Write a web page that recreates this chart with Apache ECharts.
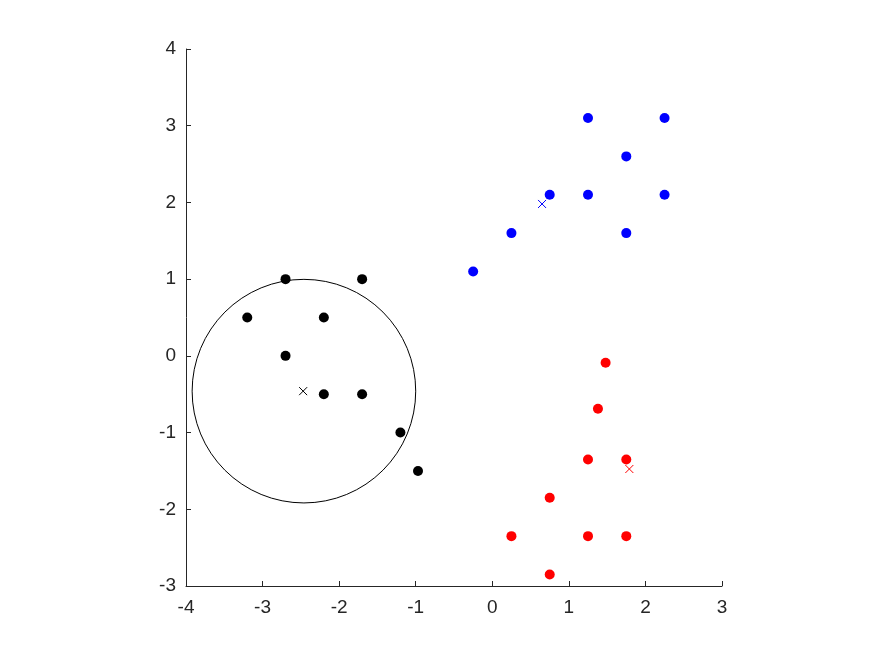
<!DOCTYPE html>
<html>
<head>
<meta charset="utf-8">
<script src="https://cdn.jsdelivr.net/npm/echarts@6/dist/echarts.min.js"></script>
<style>
html, body { margin: 0; padding: 0; background: #fff; }
#chart { width: 875px; height: 656px; }
</style>
</head>
<body>
<div id="chart"></div>
<script>
// cluster points
let bluePts = [[1.25, 3.1], [2.25, 3.1], [1.75, 2.6], [0.75, 2.1], [1.25, 2.1], [2.25, 2.1], [0.25, 1.6], [1.75, 1.6], [-0.25, 1.1]];
let blackPts = [[-2.7, 1.0], [-1.7, 1.0], [-3.2, 0.5], [-2.2, 0.5], [-2.7, 0], [-2.2, -0.5], [-1.7, -0.5], [-1.2, -1.0], [-0.97, -1.5]];
let redPts = [[1.48, -0.09], [1.38, -0.69], [1.25, -1.35], [1.75, -1.35], [0.75, -1.85], [0.25, -2.35], [1.25, -2.35], [1.75, -2.35], [0.75, -2.85]];
// centroids
let blueCenter = [[0.65, 1.98]];
let blackCenter = [[-2.47, -0.46]];
let redCenter = [[1.79, -1.475]];
// circle around black centroid: [cx, cy, r]
let circleData = [[-2.46, -0.46, 1.46]];

let xTicks = [-4, -3, -2, -1, 0, 1, 2, 3];
let yTicks = [-3, -2, -1, 0, 1, 2, 3, 4];

let crossPath = 'path://M0,0L10,10M10,0L0,10';

function dots(name, data, color) {
    return {
        name: name,
        type: 'scatter',
        data: data,
        symbol: 'circle',
        symbolSize: 10,
        itemStyle: { color: color, opacity: 1 },
        z: 3
    };
}
function cross(name, data, color) {
    return {
        name: name,
        type: 'scatter',
        data: data,
        symbol: crossPath,
        symbolSize: 8,
        itemStyle: { color: 'transparent', borderColor: color, borderWidth: 1, opacity: 1 },
        z: 4
    };
}

let axisCol = '#262626';
let chart = echarts.init(document.getElementById('chart'));
let option = {
    animation: false,
    backgroundColor: '#fff',
    grid: { left: 186, right: 153, top: 49, bottom: 70 },
    xAxis: {
        type: 'value',
        min: xTicks[0],
        max: xTicks[xTicks.length - 1],
        interval: 1,
        splitLine: { show: false },
        axisLine: { show: true, onZero: false, lineStyle: { color: axisCol, width: 1 } },
        axisTick: { show: true, inside: true, length: 5, lineStyle: { color: axisCol } },
        axisLabel: { color: axisCol, fontSize: 19, fontFamily: 'Liberation Sans', margin: 12 }
    },
    yAxis: {
        type: 'value',
        min: yTicks[0],
        max: yTicks[yTicks.length - 1],
        interval: 1,
        splitLine: { show: false },
        axisLine: { show: true, onZero: false, lineStyle: { color: axisCol, width: 1 } },
        axisTick: { show: true, inside: true, length: 5, lineStyle: { color: axisCol } },
        axisLabel: { color: axisCol, fontSize: 19, fontFamily: 'Liberation Sans', margin: 10 }
    },
    series: [
        {
            name: 'circle',
            type: 'custom',
            data: circleData,
            renderItem: function (params, api) {
                let c = api.coord([api.value(0), api.value(1)]);
                let s = api.size([api.value(2), api.value(2)]);
                return {
                    type: 'circle',
                    shape: { cx: c[0], cy: c[1], r: s[0] },
                    style: { fill: 'none', stroke: '#000', lineWidth: 1 }
                };
            },
            z: 2
        },
        dots('blue', bluePts, '#0000ff'),
        dots('black', blackPts, '#000000'),
        dots('red', redPts, '#ff0000'),
        cross('blueC', blueCenter, '#0000ff'),
        cross('blackC', blackCenter, '#000000'),
        cross('redC', redCenter, '#ff0000')
    ]
};
chart.setOption(option);
</script>
</body>
</html>
